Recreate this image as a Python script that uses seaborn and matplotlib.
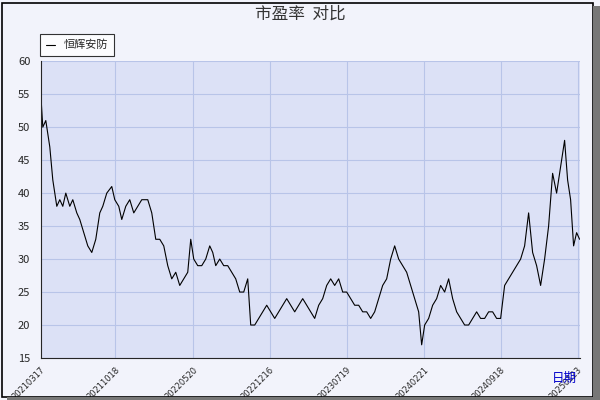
import matplotlib
matplotlib.use("Agg")
import matplotlib.pyplot as plt
import seaborn as sns
import pandas as pd
from matplotlib.patches import Rectangle

sns.set_style("white")
plt.rcParams['font.family'] = ['Noto Sans CJK SC', 'DejaVu Sans']

seq = [0,2,5,9,12,16,19,22,25,29,32,36,39,43,47,51,55,59,62,66,71,74,78,81,85,89,93,97,101,107,111,115,119,123,127,131,135,139,143,147,150,153,157,161,165,169,172,175,179,183,187,191,195,199,203,207,210,214,218,222,226,230,234,238,242,246,250,254,258,262,266,270,274,278,282,286,290,294,298,302,306,310,314,318,322,326,330,334,338,342,346,350,354,358,362,366,370,374,378,381,384,388,392,396,400,404,408,412,416,420,424,428,432,436,440,444,448,452,456,460,464,468,472,476,480,484,488,492,496,500,504,508,512,516,520,524,527,530,533,536,539]
pe = [55,50,51,47,42,38,39,38,40,38,39,37,36,34,32,31,33,37,38,40,41,39,38,36,38,39,37,38,39,39,37,33,33,32,29,27,28,26,27,28,33,30,29,29,30,32,31,29,30,29,29,28,27,25,25,27,20,20,21,22,23,22,21,22,23,24,23,22,23,24,23,22,21,23,24,26,27,26,27,25,25,24,23,23,22,22,21,22,24,26,27,30,32,30,29,28,26,24,22,17,20,21,23,24,26,25,27,24,22,21,20,20,21,22,21,21,22,22,21,21,26,27,28,29,30,32,37,31,29,26,30,35,43,40,44,48,42,39,32,34,33]
tick_pos = [0,74,152,229,306,383,460,537]
tick_labels = ["20210317","20211018","20220520","20221216","20230719","20240221","20240918","20250123"]

df = pd.DataFrame({"seq": seq, "pe": pe})
fig = plt.figure(figsize=(6, 4), dpi=100, facecolor="#F2F3FB")
ax = fig.add_axes([0.068, 0.105, 0.898, 0.742])
ax.set_facecolor("#DCE1F6")
sns.lineplot(data=df, x="seq", y="pe", ax=ax, color="black", lw=0.8, label="恒辉安防")
ax.set_xlim(0, 539)
ax.set_ylim(15, 60)
ax.set_yticks(range(15, 61, 5))
ax.set_xticks(tick_pos)
ax.set_xticklabels(tick_labels, rotation=45, ha="right", va="top", rotation_mode="anchor",
                   fontsize=6, family="DejaVu Sans")
ax.tick_params(axis="y", labelsize=8, length=4)
ax.tick_params(axis="x", length=4, pad=1)
ax.grid(True, color="#B8C4E8", lw=0.8)
ax.set_xlabel(""); ax.set_ylabel("")
for s in ["top", "right"]:
    ax.spines[s].set_visible(False)
leg = ax.legend(loc="lower left", bbox_to_anchor=(-0.005, 1.01), fontsize=8, frameon=True,
                fancybox=False, edgecolor="black", handlelength=0.8, borderpad=0.5,
                borderaxespad=0.2)
leg.get_frame().set_linewidth(0.8)
fig.text(0.5, 0.965, "市盈率  对比", ha="center", va="center", fontsize=12, color="#333333")
fig.text(0.94, 0.055, "日期", ha="center", va="center", fontsize=9, color="#0000CC")
fig.patches.append(Rectangle((0.003, 0.008), 0.985, 0.985, transform=fig.transFigure,
                             fill=False, edgecolor="black", lw=1.2))
fig.patches.append(Rectangle((0.988, 0.0), 0.012, 0.985, transform=fig.transFigure,
                             facecolor="#777777", edgecolor="none"))
fig.patches.append(Rectangle((0.012, 0.0), 0.988, 0.008, transform=fig.transFigure,
                             facecolor="#777777", edgecolor="none"))
fig.savefig("out.png", dpi=100, facecolor=fig.get_facecolor())
